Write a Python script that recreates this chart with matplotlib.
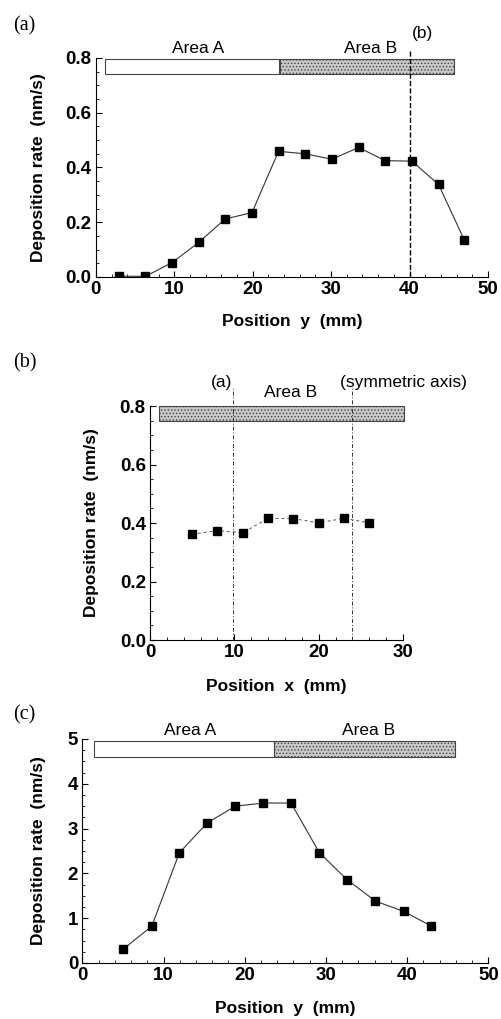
import matplotlib.pyplot as plt
from matplotlib.patches import Rectangle
from matplotlib.ticker import MultipleLocator

plt.rcParams['font.family'] = ['Liberation Sans', 'DejaVu Sans']
plt.rcParams['hatch.color'] = '#808080'
plt.rcParams['hatch.linewidth'] = 0.6

# panel (a): deposition rate along y
a_pos = [2.9, 6.3, 9.7, 13.1, 16.5, 19.9, 23.3, 26.7, 30.1, 33.5, 36.9, 40.3, 43.7, 47.0]
a_rate = [0.003, 0.002, 0.052, 0.126, 0.212, 0.235, 0.459, 0.450, 0.430, 0.473, 0.425, 0.423, 0.338, 0.134]

# panel (b): deposition rate along x
b_pos = [5, 8, 11, 14, 17, 20, 23, 26]
b_rate = [0.362, 0.374, 0.367, 0.416, 0.415, 0.401, 0.416, 0.401]

# panel (c): deposition rate along y
c_pos = [5.05, 8.55, 11.95, 15.4, 18.85, 22.3, 25.7, 29.2, 32.6, 36.1, 39.6, 42.9]
c_rate = [0.31, 0.82, 2.46, 3.13, 3.50, 3.57, 3.57, 2.46, 1.86, 1.38, 1.15, 0.83]

fig = plt.figure(figsize=(5.02, 10.19), dpi=100)


def style_axes(ax, xmax, ymax, xmaj, xmin_, ymaj, ymin_, yfmt, ylab_x, xlab_y):
    ax.set_xlim(0, xmax)
    ax.set_ylim(0, ymax)
    ax.spines['top'].set_visible(False)
    ax.spines['right'].set_visible(False)
    ax.xaxis.set_major_locator(MultipleLocator(xmaj))
    ax.xaxis.set_minor_locator(MultipleLocator(xmin_))
    ax.yaxis.set_major_locator(MultipleLocator(ymaj))
    ax.yaxis.set_minor_locator(MultipleLocator(ymin_))
    ax.tick_params(which='both', direction='in')
    ax.tick_params(which='major', length=4, labelsize=13.5, pad=3)
    ax.tick_params(which='minor', length=2)
    ax.yaxis.set_major_formatter(yfmt)
    for lab in ax.get_xticklabels() + ax.get_yticklabels():
        lab.set_fontweight('bold')
    ax.set_ylabel('Deposition rate  (nm/s)', fontsize=12.5, fontweight='bold')
    ax.yaxis.set_label_coords(ylab_x, 0.5)
    ax.set_xlabel('Position  y  (mm)', fontsize=12.5, fontweight='bold')
    ax.xaxis.set_label_coords(0.5, xlab_y)


def bar(ax, x0, x1, y0, y1, shaded):
    if shaded:
        r = Rectangle((x0, y0), x1 - x0, y1 - y0, facecolor='#c8c8c8', edgecolor='#444444',
                      hatch='.....', linewidth=0.8, clip_on=False, zorder=3)
    else:
        r = Rectangle((x0, y0), x1 - x0, y1 - y0, facecolor='white', edgecolor='#444444',
                      linewidth=0.8, clip_on=False, zorder=3)
    ax.add_patch(r)


# ---- (a)
ax1 = fig.add_axes([0.191, 0.7282, 0.781, 0.2149])
style_axes(ax1, 50, 0.8, 10, 2, 0.2, 0.05, '{x:.1f}', -0.128, -0.169)
ax1.plot(a_pos, a_rate, color='#333333', linewidth=0.8, marker='s', markersize=5.5,
         markerfacecolor='black', markeredgecolor='black', zorder=4)
bar(ax1, 1.1, 23.3, 0.743, 0.795, False)
bar(ax1, 23.5, 45.7, 0.743, 0.795, True)
ax1.plot([40, 40], [0, 0.83], color='black', linestyle='--', linewidth=1.0, clip_on=False, zorder=5)
ax1.text(13, 0.836, 'Area A', ha='center', va='center', fontsize=12.5)
ax1.text(35, 0.836, 'Area B', ha='center', va='center', fontsize=12.5)
ax1.text(41.7, 0.891, '(b)', ha='center', va='center', fontsize=12.5)
fig.text(0.027, 0.975, '(a)', family='Liberation Serif', fontsize=14.5, va='center')

# ---- (b)
ax2 = fig.add_axes([0.2988, 0.3719, 0.504, 0.2296])
style_axes(ax2, 30, 0.8, 10, 2, 0.2, 0.05, '{x:.1f}', -0.20, -0.167)
ax2.set_xlabel('Position  x  (mm)', fontsize=12.5, fontweight='bold')
ax2.plot(b_pos, b_rate, color='#555555', linewidth=0.7, linestyle=(0, (3, 3)), marker='s',
         markersize=6, markerfacecolor='black', markeredgecolor='black', zorder=4)
bar(ax2, 1.1, 30.1, 0.75, 0.80, True)
for xv in [9.8, 23.9]:
    ax2.plot([xv, xv], [0, 0.865], color='#333333', linestyle=(0, (4, 2, 1, 2)),
             linewidth=0.7, clip_on=False, zorder=5)
ax2.text(8.54, 0.882, '(a)', ha='center', va='center', fontsize=12.5)
ax2.text(16.7, 0.848, 'Area B', ha='center', va='center', fontsize=12.5)
ax2.text(30.0, 0.879, '(symmetric axis)', ha='center', va='center', fontsize=12.5)
fig.text(0.027, 0.644, '(b)', family='Liberation Serif', fontsize=14.5, va='center')

# ---- (c)
ax3 = fig.add_axes([0.164, 0.055, 0.8088, 0.2198])
style_axes(ax3, 50, 5, 10, 2, 1, 0.25, '{x:.0f}', -0.089, -0.170)
ax3.plot(c_pos, c_rate, color='#333333', linewidth=0.8, marker='s', markersize=5.5,
         markerfacecolor='black', markeredgecolor='black', zorder=4)
bar(ax3, 1.4, 23.65, 4.6, 4.95, False)
bar(ax3, 23.65, 45.9, 4.6, 4.95, True)
ax3.text(13.3, 5.2, 'Area A', ha='center', va='center', fontsize=12.5)
ax3.text(35.2, 5.2, 'Area B', ha='center', va='center', fontsize=12.5)
fig.text(0.027, 0.298, '(c)', family='Liberation Serif', fontsize=14.5, va='center')

fig.savefig('out.png', dpi=100)
